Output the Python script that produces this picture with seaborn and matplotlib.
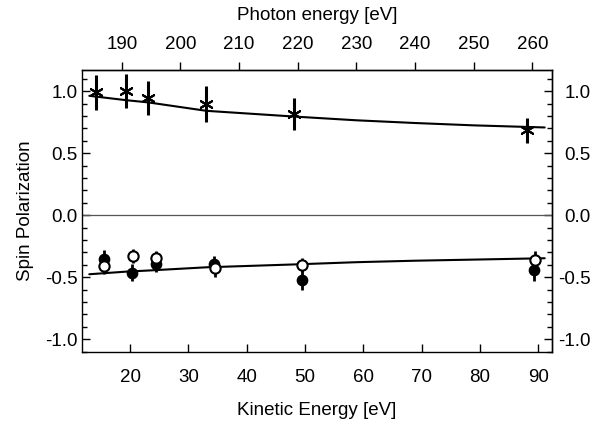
import numpy as np
import pandas as pd
import matplotlib
matplotlib.use("Agg")
import matplotlib.pyplot as plt
from matplotlib.ticker import MultipleLocator
import seaborn as sns

sns.set_theme(style="ticks")
plt.rcParams['font.family'] = ['Liberation Sans', 'DejaVu Sans']

# upper branch (asterisks)
ke_up = [14.2, 19.3, 23.1, 33.1, 48.1, 88.0]
pol_up = [0.99, 1.00, 0.945, 0.895, 0.815, 0.685]
err_up = [0.14, 0.14, 0.14, 0.145, 0.13, 0.10]

# lower branch, filled circles
ke_filled = [15.5, 20.4, 24.4, 34.4, 49.4, 89.3]
pol_filled = [-0.355, -0.462, -0.39, -0.395, -0.524, -0.44]
err_filled = [0.075, 0.065, 0.07, 0.07, 0.08, 0.09]

# lower branch, open circles
ke_open = [15.6, 20.5, 24.5, 34.6, 49.5, 89.5]
pol_open = [-0.41, -0.33, -0.345, -0.428, -0.403, -0.362]
err_open = [0.067, 0.055, 0.055, 0.07, 0.055, 0.075]

# model curves
ke_fit = [13.0, 19.3, 23.1, 33.1, 48.1, 58.7, 68.8, 78.9, 91.1]
fit_up = [0.962, 0.927, 0.909, 0.841, 0.795, 0.765, 0.743, 0.724, 0.707]
fit_down = [-0.476, -0.455, -0.446, -0.42, -0.397, -0.379, -0.367, -0.358, -0.347]

# photon energy = slope * kinetic energy + offset (top axis)
PH_SLOPE = 0.9945
PH_OFFSET = 171.52
photon_ticks = list(range(190, 261, 10))

fig = plt.figure(figsize=(5.99, 4.21), dpi=100)
ax = fig.add_axes([0.1374, 0.1632, 0.7836, 0.6705])

fits = pd.DataFrame({"ke": ke_fit * 2, "pol": fit_up + fit_down,
                     "branch": ["up"] * len(ke_fit) + ["down"] * len(ke_fit)})
sns.lineplot(data=fits, x="ke", y="pol", units="branch", estimator=None,
             color="black", lw=1.5, ax=ax, zorder=2)
ax.axhline(0, color="#555555", lw=0.9, zorder=1)

# error bars behind the markers
ax.errorbar(ke_up, pol_up, yerr=err_up, fmt="none", ecolor="black", elinewidth=2.2, zorder=3)
ax.errorbar(ke_filled, pol_filled, yerr=err_filled, fmt="none", ecolor="black", elinewidth=2.0, zorder=3)
ax.errorbar(ke_open, pol_open, yerr=err_open, fmt="none", ecolor="black", elinewidth=2.0, zorder=3)

sns.scatterplot(x=ke_up, y=pol_up, marker=(6, 2, 0), s=85, color="black",
                linewidth=1.5, ax=ax, zorder=4)
sns.scatterplot(x=ke_filled, y=pol_filled, marker="o", s=55, color="black",
                edgecolor="black", linewidth=1.0, ax=ax, zorder=4)
sns.scatterplot(x=ke_open, y=pol_open, marker="o", s=55, color="white",
                edgecolor="black", linewidth=1.5, ax=ax, zorder=5)

ax.set_xlim(11.8, 92.3)
ax.set_ylim(-1.105, 1.17)
ax.set_xticks(range(20, 91, 10))
ax.set_yticks([-1.0, -0.5, 0.0, 0.5, 1.0])
ax.yaxis.set_minor_locator(MultipleLocator(0.1))
ax.set_yticklabels(["-1.0", "-0.5", "0.0", "0.5", "1.0"])

for sp in ax.spines.values():
    sp.set_linewidth(1.0)
    sp.set_color("black")

ax.tick_params(axis="x", which="major", direction="in", length=5.5, width=1,
               top=False, pad=12, labelsize=13.5, colors="black")
ax.tick_params(axis="y", which="major", direction="in", length=5.5, width=1,
               right=False, pad=3.6, labelsize=13.5, colors="black")
ax.tick_params(axis="y", which="minor", direction="in", length=3.5, width=1,
               right=False, colors="black")

ax.set_xlabel("Kinetic Energy [eV]", fontsize=13.5, labelpad=11.5, color="black")
ax.set_ylabel("Spin Polarization", fontsize=13.5, labelpad=8, color="black")

# right side: same ticks, labels right-aligned
secy = ax.secondary_yaxis("right")
secy.set_yticks([-1.0, -0.5, 0.0, 0.5, 1.0])
secy.set_yticklabels(["-1.0", "-0.5", "0.0", "0.5", "1.0"])
secy.yaxis.set_minor_locator(MultipleLocator(0.1))
secy.tick_params(axis="y", which="major", direction="in", length=5.5, width=1,
                 pad=28, labelsize=13.5, colors="black")
secy.tick_params(axis="y", which="minor", direction="in", length=3.5, width=1, colors="black")
secy.spines["right"].set_linewidth(1.0)
plt.setp(secy.get_yticklabels(), ha="right")

# top side: photon energy
secx = ax.secondary_xaxis("top", functions=(lambda k: PH_SLOPE * k + PH_OFFSET,
                                            lambda p: (p - PH_OFFSET) / PH_SLOPE))
secx.set_xticks(photon_ticks)
secx.tick_params(axis="x", direction="out", length=5.5, width=1, pad=7,
                 labelsize=13.5, colors="black")
secx.spines["top"].set_linewidth(1.0)
secx.set_xlabel("Photon energy [eV]", fontsize=13.5, labelpad=11, color="black")

fig.savefig("out.png", dpi=100)
